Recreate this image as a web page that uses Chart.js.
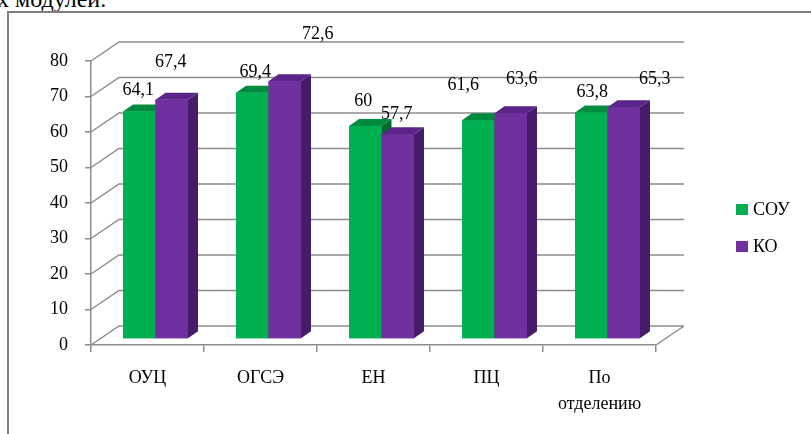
<!DOCTYPE html>
<html>
<head>
<meta charset="utf-8">
<script src="https://cdn.jsdelivr.net/npm/chart.js@4/dist/chart.umd.min.js"></script>
<style>
  html, body { margin: 0; padding: 0; background: #fff; overflow: hidden; }
  #wrap { position: relative; width: 811px; height: 434px; overflow: hidden; }
  #frame { position: absolute; left: 7px; top: 11px; width: 830px; height: 450px;
           border-left: 2px solid #7f7f7f; border-top: 2px solid #7f7f7f; }
  #head { position: absolute; left: -3px; top: -13px; font: 24px "Liberation Serif", serif; line-height: 24px; white-space: nowrap; }
  canvas { position: absolute; left: 0; top: 0; }
  #legend { position: absolute; left: 736px; top: 191px; font: 18px "Liberation Serif", serif; color: #000; }
  .item { display: flex; align-items: center; height: 37px; }
  .box { width: 12px; height: 11px; margin-right: 5px; }
</style>
</head>
<body>
<div id="wrap">
  <div id="head">х модулей.</div>
  <div id="frame"></div>
  <canvas id="chart" width="811" height="434"></canvas>
  <div id="legend"></div>
</div>
<script>
// данные
const categories = ["ОУЦ", "ОГСЭ", "ЕН", "ПЦ", ["По", "отделению"]];
const seriesNames = ["СОУ", "КО"];
const souValues = [64.1, 69.4, 60, 61.6, 63.8];
const koValues = [67.4, 72.6, 57.7, 63.6, 65.3];
const yMin = 0, yMax = 80, yStep = 10;

// оформление
const colors = [
  { front: "#00b050", top: "#008c3f", side: "#006b30" },
  { front: "#7030a0", top: "#5b2489", side: "#461c6a" }
];
const gridColor = "#8c8c8c";
const fontStack = '"Liberation Serif", serif';
const wall = { x: 28, y: -19 };     // глубина задней стенки
const barShift = { x: 8, y: -6 };   // столбики стоят посередине глубины
const barDepth = { x: 10, y: -7 };
// сдвиг подписей значений относительно верха столбика [dx, dy]
const labelNudge = [
  [[-1, -21], [3, -20], [-2, -25], [-15, -35], [1, -20]],
  [[-1, -37], [33, -47], [-1, -20], [11, -34], [31, -28]]
];

const legendDiv = document.getElementById("legend");
seriesNames.forEach((name, i) => {
  legendDiv.innerHTML += `<div class="item"><span class="box" style="background:${colors[i].front}"></span>${name}</div>`;
});

const box3d = {
  id: "box3d",
  beforeDatasetsDraw(chart) {
    const ctx = chart.ctx;
    const { left, right, bottom } = chart.chartArea;
    const y = chart.scales.y;
    ctx.save();
    ctx.strokeStyle = gridColor;
    ctx.lineWidth = 1.5;
    for (let v = yMin; v <= yMax; v += yStep) {
      const py = y.getPixelForValue(v);
      ctx.beginPath();
      ctx.moveTo(left, py);
      ctx.lineTo(left + wall.x, py + wall.y);
      ctx.lineTo(right + wall.x, py + wall.y);
      ctx.stroke();
    }
    ctx.beginPath();
    ctx.moveTo(right, bottom);
    ctx.lineTo(right + wall.x, bottom + wall.y);
    ctx.stroke();
    ctx.restore();

    ctx.save();
    ctx.translate(barShift.x, barShift.y);
  },
  afterDatasetsDraw(chart) {
    const ctx = chart.ctx;
    const metas = chart.data.datasets.map((d, i) => chart.getDatasetMeta(i));
    for (let i = 0; i < categories.length; i++) {
      metas.forEach((meta, d) => {
        const bar = meta.data[i];
        const { x, y, base, width } = bar.getProps(["x", "y", "base", "width"], true);
        const x0 = x - width / 2, x1 = x + width / 2;
        const c = colors[d];
        ctx.fillStyle = c.front;
        ctx.fillRect(x0, y, width, base - y);
        ctx.fillStyle = c.top;
        ctx.beginPath();
        ctx.moveTo(x0, y);
        ctx.lineTo(x1, y);
        ctx.lineTo(x1 + barDepth.x, y + barDepth.y);
        ctx.lineTo(x0 + barDepth.x, y + barDepth.y);
        ctx.closePath();
        ctx.fill();
        ctx.fillStyle = c.side;
        ctx.beginPath();
        ctx.moveTo(x1, y);
        ctx.lineTo(x1 + barDepth.x, y + barDepth.y);
        ctx.lineTo(x1 + barDepth.x, base + barDepth.y);
        ctx.lineTo(x1, base);
        ctx.closePath();
        ctx.fill();
      });
    }
    // подписи значений
    ctx.fillStyle = "#000";
    ctx.font = "18px " + fontStack;
    ctx.textAlign = "center";
    ctx.textBaseline = "middle";
    metas.forEach((meta, d) => {
      meta.data.forEach((bar, i) => {
        const v = chart.data.datasets[d].data[i];
        const n = labelNudge[d][i];
        ctx.fillText(String(v).replace(".", ","), bar.x + n[0], bar.y + n[1]);
      });
    });
    ctx.restore();
  }
};

new Chart(document.getElementById("chart"), {
  type: "bar",
  data: {
    labels: categories,
    datasets: [
      { label: seriesNames[0], data: souValues, backgroundColor: colors[0].front },
      { label: seriesNames[1], data: koValues, backgroundColor: colors[1].front }
    ]
  },
  options: {
    responsive: false,
    animation: false,
    devicePixelRatio: 1,
    layout: { padding: { top: 61, right: 155, left: 0, bottom: 0 } },
    datasets: { bar: { barPercentage: 1, categoryPercentage: 0.575 } },
    plugins: { legend: { display: false }, tooltip: { enabled: false } },
    scales: {
      x: {
        afterFit(scale) { scale.height = 89; },
        grid: { drawOnChartArea: false, tickLength: 7, color: gridColor, lineWidth: 1.5 },
        border: { color: gridColor, width: 1.5 },
        ticks: { color: "#000", font: { family: fontStack, size: 18, lineHeight: 1.4 }, padding: 14, maxRotation: 0 }
      },
      y: {
        min: yMin, max: yMax,
        afterFit(scale) { scale.width = 91; },
        grid: { drawOnChartArea: false, tickLength: 6, color: gridColor, lineWidth: 1.5 },
        border: { color: gridColor, width: 1.5 },
        ticks: { stepSize: yStep, color: "#000", font: { family: fontStack, size: 18 }, padding: 17 }
      }
    }
  },
  plugins: [box3d]
});
</script>
</body>
</html>
